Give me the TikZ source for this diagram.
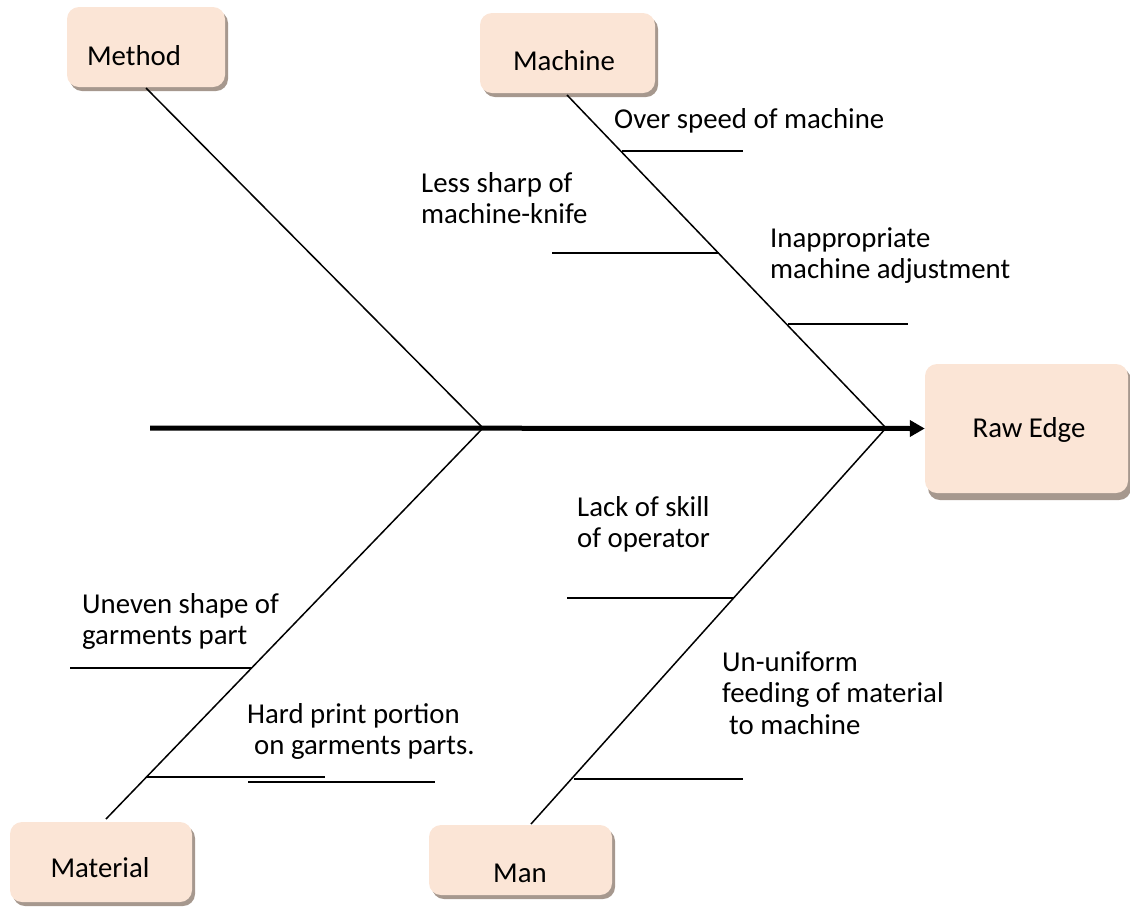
\documentclass[tikz,border=0pt]{standalone}
\usepackage{fontspec}
\setmainfont{Carlito}
\usetikzlibrary{arrows.meta,shadows}
\definecolor{boxfill}{RGB}{251,229,214}
\definecolor{boxshade}{RGB}{166,152,142}
\newcommand\causefont{\fontsize{28.8}{31.5}\selectfont}
\newcommand\firstline{\rule{0pt}{21pt}}

\begin{document}
\begin{tikzpicture}[x=1pt,y=-1pt,
  catbox/.style={fill=boxfill, draw=none, rounded corners=12pt, inner sep=0pt,
    drop shadow={shadow xshift=3pt, shadow yshift=-4pt, fill=boxshade, opacity=1}},
  cattext/.style={anchor=base, inner sep=0pt, font=\causefont},
  cause/.style={anchor=north west, inner sep=0pt, align=left, font=\causefont},
  bone/.style={line width=1.5pt, black},
  rib/.style={line width=1.5pt, black},
  spine/.style={line width=5pt, -{Triangle[length=15pt,width=16pt]}}]

\useasboundingbox (0,0) rectangle (1130,906);

% category boxes
\node[catbox, minimum width=158pt, minimum height=80pt] (method) at (146,47) {};
\node[catbox, minimum width=175pt, minimum height=80pt] (machine) at (567.5,53) {};
\node[catbox, minimum width=203pt, minimum height=129pt,
  drop shadow={shadow xshift=3pt, shadow yshift=-7pt, fill=boxshade, opacity=1}] (rawedge) at (1026.5,428.5) {};
\node[catbox, minimum width=182pt, minimum height=80pt] (material) at (101,862) {};
\node[catbox, minimum width=183pt, minimum height=70pt] (man) at (520.5,860) {};

\node[cattext] (methodlbl) at (134,65) {Method};
\node[cattext] (machinelbl) at (564,70) {Machine};
\node[cattext] (rawedgelbl) at (1029,437) {Raw Edge};
\node[cattext] (materiallbl) at (100,877) {Material};
\node[cattext] (manlbl) at (520,882) {Man};

% spine and junctions
\coordinate (tail) at (150,428);
\coordinate (j1) at (483,428);
\coordinate (j2) at (886,428);
\draw[spine] (tail) -- (rawedge.west);

% main bones
\coordinate (methodend) at (146,88);
\coordinate (machineend) at (567,95);
\coordinate (materialend) at (106,819);
\coordinate (manend) at (531,824);
\draw[bone] (methodend) -- (j1);
\draw[bone] (machineend) -- (j2);
\draw[bone] (j1) -- (materialend);
\draw[bone] (j2) -- (manend);

% ribs on the machine bone
\coordinate (r1a) at (622,151); \coordinate (r1b) at (743,151);
\coordinate (r2a) at (719,253); \coordinate (r2b) at (552,253);
\coordinate (r3a) at (788,324); \coordinate (r3b) at (908,324);
\draw[rib] (r1a) -- (r1b);
\draw[rib] (r2a) -- (r2b);
\draw[rib] (r3a) -- (r3b);

% ribs on the man bone
\coordinate (r4a) at (734,598); \coordinate (r4b) at (567,598);
\coordinate (r5a) at (574,779); \coordinate (r5b) at (743,779);
\draw[rib] (r4a) -- (r4b);
\draw[rib] (r5a) -- (r5b);

% ribs on the material bone
\coordinate (r6a) at (252,668); \coordinate (r6b) at (70,668);
\coordinate (r7a) at (146,777); \coordinate (r7b) at (325,777);
\coordinate (r8a) at (248,782); \coordinate (r8b) at (435,782);
\draw[rib] (r6a) -- (r6b);
\draw[rib] (r7a) -- (r7b);
\draw[rib, line width=1.1pt] (r8a) -- (r8b);

% cause labels
\node[cause, anchor=base west] (c1) at (614,128) {Over speed of machine};
\node[cause] (c2) at (421,171) {\firstline Less sharp of\\machine-knife};
\node[cause] (c3) at (770,226) {\firstline Inappropriate\\machine adjustment};
\node[cause] (c4) at (577,495) {\firstline Lack of skill\\of operator};
\node[cause] (c5) at (722,650) {\firstline Un-uniform\\feeding of material\\\hspace*{7pt}to machine};
\node[cause] (c6) at (82,592) {\firstline Uneven shape of\\garments part};
\node[cause] (c7) at (247,702) {\firstline Hard print portion\\\hspace*{7pt}on garments parts.};

\end{tikzpicture}
\end{document}
